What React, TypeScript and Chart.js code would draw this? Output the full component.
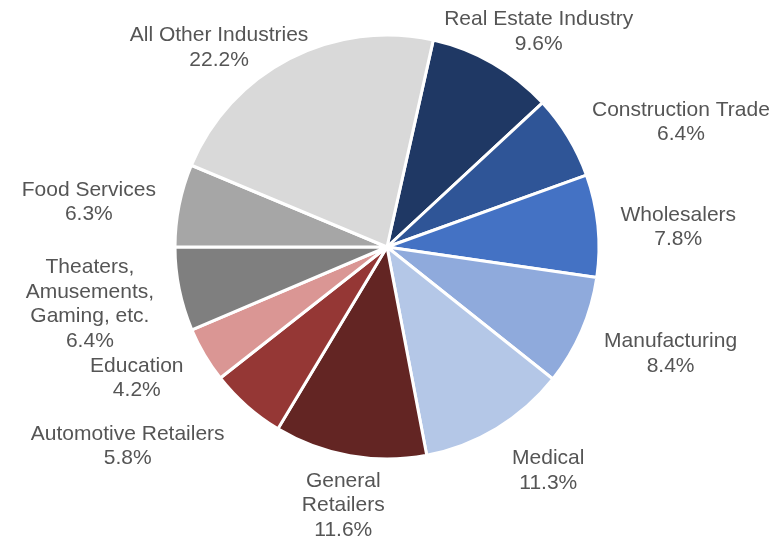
import React, { useEffect, useRef } from "react";
import { Chart, registerables } from "chart.js";

Chart.register(...registerables);

const categories: string[] = [
  "Real Estate Industry",
  "Construction Trade",
  "Wholesalers",
  "Manufacturing",
  "Medical",
  "General\nRetailers",
  "Automotive Retailers",
  "Education",
  "Theaters,\nAmusements,\nGaming, etc.",
  "Food Services",
  "All Other Industries",
];

const shares: number[] = [9.6, 6.4, 7.8, 8.4, 11.3, 11.6, 5.8, 4.2, 6.4, 6.3, 22.2];

const sliceColors: string[] = [
  "#1F3864",
  "#2F5597",
  "#4472C4",
  "#8FAADC",
  "#B4C7E7",
  "#632523",
  "#953735",
  "#DA9694",
  "#7F7F7F",
  "#A6A6A6",
  "#D9D9D9",
];

// Layout-only fine adjustments of each label box (px), relative to its computed spot
const labelNudge: [number, number][] = [
  [-13.5, 11.5],
  [15.5, 11],
  [-2, 6.5],
  [5, 3],
  [20, 0],
  [5, -11],
  [-38.5, 3],
  [-6, -2],
  [-2, 0],
  [0, 6.5],
  [-18, 33],
];

const FONT_SIZE = 21;
const LINE_H = 24.5;
const LABEL_GAP = 25;
const TEXT_COLOR = "#555555";

const outsideLabels = {
  id: "outsideLabels",
  afterDatasetsDraw(chart: any) {
    const ctx = chart.ctx as CanvasRenderingContext2D;
    const meta = chart.getDatasetMeta(0);
    ctx.save();
    ctx.font = `${FONT_SIZE}px "Liberation Sans", Arial, sans-serif`;
    ctx.fillStyle = TEXT_COLOR;
    ctx.textAlign = "center";
    ctx.textBaseline = "middle";
    meta.data.forEach((arc: any, i: number) => {
      const { x, y, startAngle, endAngle, outerRadius } = arc.getProps(
        ["x", "y", "startAngle", "endAngle", "outerRadius"],
        true
      );
      const mid = (startAngle + endAngle) / 2;
      const dx = Math.cos(mid);
      const dy = Math.sin(mid);
      const lines = [...categories[i].split("\n"), shares[i].toFixed(1) + "%"];
      const w = Math.max(...lines.map((l) => ctx.measureText(l).width));
      const h = lines.length * LINE_H;
      const r = outerRadius + LABEL_GAP;
      const [nx, ny] = labelNudge[i] || [0, 0];
      const cx = x + r * dx + (dx * w) / 2 + nx;
      const cy = y + r * dy + (dy * h) / 2 + ny;
      lines.forEach((l, k) => {
        ctx.fillText(l, cx, cy - h / 2 + LINE_H * (k + 0.5));
      });
    });
    ctx.restore();
  },
};

export default function App() {
  const ref = useRef<HTMLCanvasElement | null>(null);
  useEffect(() => {
    document.body.style.margin = "0";
    const canvas = ref.current!;
    const chart = new Chart(canvas, {
      type: "pie",
      data: {
        labels: categories.map((c) => c.replace(/\n/g, " ")),
        datasets: [
          {
            data: shares,
            backgroundColor: sliceColors,
            borderColor: "#FFFFFF",
            borderWidth: 3,
            radius: 212,
          } as any,
        ],
      },
      options: {
        animation: false,
        responsive: false,
        devicePixelRatio: 1,
        rotation: 12.6,
        layout: { padding: { left: 0, right: 10, top: 0, bottom: 44 } },
        plugins: {
          legend: { display: false },
          tooltip: { enabled: false },
        },
      },
      plugins: [outsideLabels],
    });
    return () => chart.destroy();
  }, []);
  return (
    <div style={{ width: 784, height: 538, background: "#FFFFFF" }}>
      <canvas ref={ref} width={784} height={538} style={{ display: "block" }} />
    </div>
  );
}
